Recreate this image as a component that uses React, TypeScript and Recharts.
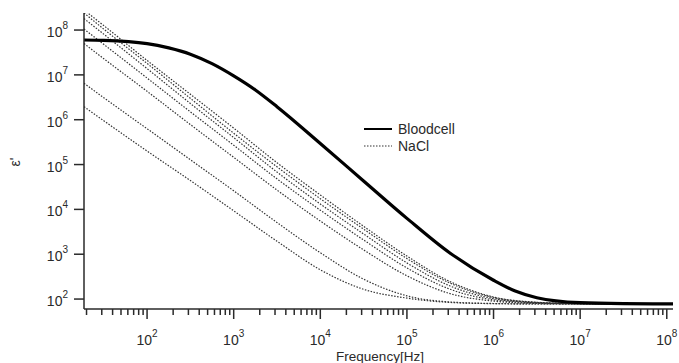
import React from 'react';
import { LineChart, Line, XAxis, YAxis } from 'recharts';

const freq = [18.7, 31.6, 100, 316, 1000, 3160, 1e4, 3.16e4, 1e5, 3.16e5, 1e6, 3.16e6, 1e7, 3.16e7, 1.18e8];

// Frequencies (Hz) at which the blood-cell values were read
const bloodFreq = [18.7, 31.6, 100, 178, 316, 562, 1000, 1780, 3160, 1e4, 3.16e4, 1e5, 3.16e5, 1e6, 1.78e6, 3.16e6, 1e7, 3.16e7, 1.18e8];

// Permittivity ε' of the blood-cell suspension
const bloodcell = [6.0e7, 5.9e7, 5.0e7, 4.0e7, 2.9e7, 1.78e7, 9.5e6, 4.6e6, 1.95e6, 2.95e5, 4.3e4, 6300, 1050, 263, 151, 107, 83, 79, 78];

// Permittivity ε' of the NaCl solutions
const nacl1 = [2.8e8, 1.26e8, 2.1e7, 3.7e6, 6.5e5, 1.1e5, 2.1e4, 4200, 910, 244, 111, 85, 79, 78, 78];
const nacl2 = [2.4e8, 1.05e8, 1.8e7, 3.0e6, 5.0e5, 8.9e4, 1.73e4, 3630, 800, 226, 108, 84, 79, 78, 78];
const nacl3 = [1.8e8, 8.1e7, 1.38e7, 2.3e6, 4.0e5, 6.8e4, 1.32e4, 2830, 640, 195, 102, 83, 79, 78, 78];
const nacl4 = [1.05e8, 4.8e7, 8.5e6, 1.5e6, 2.7e5, 4.8e4, 9600, 2080, 495, 165, 96, 82, 78.5, 78, 78];
const nacl5 = [5.0e7, 2.3e7, 4.3e6, 7.8e5, 1.45e5, 2.7e4, 5500, 1250, 330, 132, 90, 80, 78, 78, 78];
const nacl6 = [6.5e6, 3.1e6, 6.3e5, 1.28e5, 2.6e4, 5100, 1080, 278, 118, 86, 79.6, 78, 78, 78, 78];
const nacl7 = [1.95e6, 9.5e5, 2.0e5, 4.4e4, 9300, 1950, 450, 165, 105, 84, 79, 78, 78, 78, 78];

const naclSeries = [nacl1, nacl2, nacl3, nacl4, nacl5, nacl6, nacl7];

// Axis ticks
const xDomain = [18.7, 1.18e8];
const yTicks = [1e2, 1e3, 1e4, 1e5, 1e6, 1e7, 1e8];
const yDomain = [60, 2.4e8];

const xAllTicks: number[] = [];
for (let d = 1; d <= 8; d++) {
  for (let m = 1; m <= 9; m++) {
    const v = m * Math.pow(10, d);
    if (v >= xDomain[0] && v <= xDomain[1]) xAllTicks.push(v);
  }
}

const toData = (fs: number[], vals: number[]) => fs.map((f, i) => ({ f, v: vals[i] }));

const FONT = 'Liberation Sans, Arial, sans-serif';
const INK = '#2a2a2a';

const XTick = (props: any) => {
  const { x, y, payload } = props;
  const lv = Math.log10(payload.value);
  const e = Math.round(lv);
  const major = Math.abs(lv - e) < 1e-6;
  return (
    <g>
      <line x1={x} x2={x} y1={y} y2={y + (major ? 10 : 6)} stroke={INK} strokeWidth={1.5} />
      {major && (
        <text x={x} y={y + 36} textAnchor="middle" fontSize={14} fill={INK} fontFamily={FONT}>
          10<tspan dy={-8} fontSize={10}>{e}</tspan>
        </text>
      )}
    </g>
  );
};

const YTick = (props: any) => {
  const { x, y, payload } = props;
  const e = Math.round(Math.log10(payload.value));
  return (
    <g>
      <line x1={x - 10} x2={x} y1={y} y2={y} stroke={INK} strokeWidth={1.5} />
      <text x={x - 16} y={y + 7} textAnchor="end" fontSize={14} fill={INK} fontFamily={FONT}>
        10<tspan dy={-8} fontSize={10}>{e}</tspan>
      </text>
    </g>
  );
};

export default function App() {
  return (
    <div style={{ position: 'absolute', left: 0, top: 0, width: 679, height: 363, background: '#fff' }}>
      <LineChart width={679} height={363} margin={{ top: 13, right: 6, bottom: 14, left: 0 }}>
        <XAxis
          type="number"
          dataKey="f"
          scale="log"
          domain={xDomain}
          allowDataOverflow
          ticks={xAllTicks}
          interval={0}
          tick={<XTick />}
          tickLine={false}
          tickSize={0}
          tickMargin={0}
          height={40}
          axisLine={{ stroke: INK, strokeWidth: 1.5 }}
        />
        <YAxis
          type="number"
          dataKey="v"
          scale="log"
          domain={yDomain}
          allowDataOverflow
          ticks={yTicks}
          interval={0}
          tick={<YTick />}
          tickLine={false}
          tickSize={0}
          tickMargin={0}
          width={84}
          axisLine={{ stroke: INK, strokeWidth: 1.5 }}
        />
        {naclSeries.map((s, i) => (
          <Line
            key={'nacl' + i}
            data={toData(freq, s)}
            dataKey="v"
            type="monotone"
            stroke="#333"
            strokeWidth={1.2}
            strokeDasharray="1.5 1.5"
            dot={false}
            isAnimationActive={false}
          />
        ))}
        <Line
          data={toData(bloodFreq, bloodcell)}
          dataKey="v"
          type="monotone"
          stroke="#000"
          strokeWidth={3.2}
          dot={false}
          isAnimationActive={false}
        />
      </LineChart>
      <svg
        width={679}
        height={363}
        style={{ position: 'absolute', left: 0, top: 0, pointerEvents: 'none' }}
      >
        <line x1={364} x2={392} y1={129} y2={129} stroke="#000" strokeWidth={2} />
        <text x={398} y={134} fontSize={14} fill={INK} fontFamily={FONT}>Bloodcell</text>
        <line x1={364} x2={392} y1={146} y2={146} stroke="#333" strokeWidth={1.2} strokeDasharray="1.5 1.5" />
        <text x={398} y={151} fontSize={14} fill={INK} fontFamily={FONT}>NaCl</text>
        <text x={380} y={360.5} textAnchor="middle" fontSize={13.5} fill={INK} fontFamily={FONT}>Frequency[Hz]</text>
        <text x={20} y={162} textAnchor="middle" fontSize={14} fill={INK} fontFamily={FONT} transform="rotate(-90 20 162)">ε'</text>
      </svg>
    </div>
  );
}
